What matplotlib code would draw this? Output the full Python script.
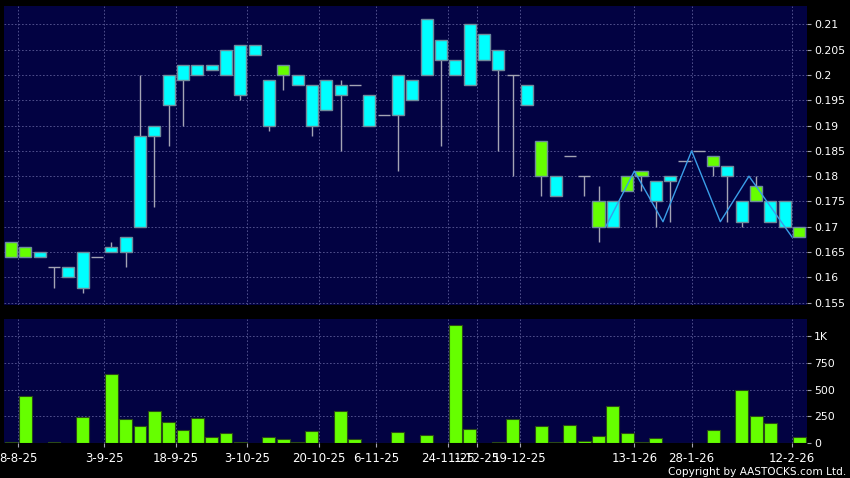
import numpy as np
import matplotlib
matplotlib.use('Agg')
import matplotlib.pyplot as plt
from matplotlib.patches import Rectangle
from matplotlib.ticker import FuncFormatter

# candle data (cyan = close above open, green = close below open)
opens = [0.167, 0.166, 0.164, 0.162, 0.160, 0.158, 0.164, 0.165, 0.165, 0.170,
         0.188, 0.194, 0.199, 0.200, 0.201, 0.200, 0.196, 0.204, 0.190, 0.202,
         0.198, 0.190, 0.193, 0.196, 0.198, 0.190, 0.192, 0.192, 0.195, 0.200,
         0.203, 0.200, 0.198, 0.203, 0.201, 0.200, 0.194, 0.187, 0.176, 0.184,
         0.180, 0.175, 0.170, 0.180, 0.181, 0.175, 0.179, 0.183, 0.185, 0.184,
         0.180, 0.171, 0.178, 0.171, 0.170, 0.170]
closes = [0.164, 0.164, 0.165, 0.162, 0.162, 0.165, 0.164, 0.166, 0.168, 0.188,
          0.190, 0.200, 0.202, 0.202, 0.202, 0.205, 0.206, 0.206, 0.199, 0.200,
          0.200, 0.198, 0.199, 0.198, 0.198, 0.196, 0.192, 0.200, 0.199, 0.211,
          0.207, 0.203, 0.210, 0.208, 0.205, 0.200, 0.198, 0.180, 0.180, 0.184,
          0.180, 0.170, 0.175, 0.177, 0.180, 0.179, 0.180, 0.183, 0.185, 0.182,
          0.182, 0.175, 0.175, 0.175, 0.175, 0.168]
highs = [0.167, 0.166, 0.165, 0.162, 0.162, 0.165, 0.164, 0.167, 0.168, 0.200,
         0.190, 0.200, 0.202, 0.202, 0.202, 0.205, 0.206, 0.206, 0.199, 0.202,
         0.200, 0.198, 0.199, 0.199, 0.198, 0.196, 0.192, 0.200, 0.199, 0.211,
         0.207, 0.203, 0.210, 0.208, 0.205, 0.200, 0.198, 0.187, 0.180, 0.184,
         0.180, 0.178, 0.175, 0.180, 0.181, 0.179, 0.180, 0.183, 0.185, 0.184,
         0.182, 0.175, 0.180, 0.175, 0.175, 0.170]
lows = [0.164, 0.164, 0.164, 0.158, 0.160, 0.157, 0.164, 0.165, 0.162, 0.170,
        0.174, 0.186, 0.190, 0.200, 0.201, 0.200, 0.195, 0.204, 0.189, 0.197,
        0.198, 0.188, 0.193, 0.185, 0.198, 0.190, 0.192, 0.181, 0.195, 0.200,
        0.186, 0.200, 0.198, 0.203, 0.185, 0.180, 0.194, 0.176, 0.176, 0.184,
        0.176, 0.167, 0.170, 0.177, 0.177, 0.170, 0.171, 0.183, 0.185, 0.180,
        0.171, 0.170, 0.175, 0.171, 0.170, 0.168]
volumes = [10, 441, 2, 12, 5, 248, 2, 646, 227, 165,
           301, 196, 121, 239, 62, 96, 15, 5, 56, 40,
           8, 115, 2, 304, 40, 2, 2, 106, 1, 78,
           5, 1099, 134, 1, 9, 224, 5, 158, 15, 168,
           18, 71, 345, 99, 15, 47, 6, 1, 1, 124,
           5, 494, 258, 193, 0, 59]

# zigzag line in the last part of the chart
zz_idx = [41, 43, 45, 47, 49, 51, 54]
zz_val = [0.170, 0.181, 0.171, 0.185, 0.171, 0.180, 0.168]

tick_idx = [0, 6, 11, 16, 21, 25, 30, 32, 35, 43, 47, 54]
tick_labels = ['8-8-25', '3-9-25', '18-9-25', '3-10-25', '20-10-25', '6-11-25',
               '24-11-25', '1-12-25', '19-12-25', '13-1-26', '28-1-26', '12-2-26']
price_ticks = [0.155, 0.16, 0.165, 0.17, 0.175, 0.18, 0.185, 0.19, 0.195, 0.2, 0.205, 0.21]
vol_ticks = [0, 250, 500, 750, 1000]

NAVY = '#020242'
GRID = '#5a5a96'
WICK = '#a4a4b4'
EDGE = '#6e8c9c'
UP = '#00ffff'
DOWN = '#66ff00'
W = 850
H = 478


def styleAxis(ax):
    ax.set_facecolor(NAVY)
    for s in ax.spines.values():
        s.set_visible(False)
    ax.yaxis.tick_right()
    ax.tick_params(axis='y', colors=WICK, labelcolor='white', length=3, width=0.8,
                   pad=2, labelsize=7.8)
    ax.grid(True, color=GRID, linestyle=(0, (2, 2.2)), linewidth=0.6)
    ax.set_axisbelow(True)


def plotCandles(ax):
    bw = 0.84
    for i in range(len(opens)):
        o, h, l, c = opens[i], highs[i], lows[i], closes[i]
        if h > max(o, c) or l < min(o, c):
            ax.vlines(i, l, h, color=WICK, linewidth=1, zorder=2)
        if o == c:
            ax.hlines(o, i - bw / 2, i + bw / 2, color=WICK, linewidth=1, zorder=3)
            continue
        col = UP if c > o else DOWN
        ax.add_patch(Rectangle((i - bw / 2, min(o, c)), bw, abs(c - o),
                               facecolor=col, edgecolor=EDGE, linewidth=1, zorder=3))


fig = plt.figure(figsize=(W / 100, H / 100), dpi=100, facecolor='black')
ax1 = fig.add_axes([4 / W, 1 - 305 / H, 803 / W, 299 / H])
ax2 = fig.add_axes([4 / W, 1 - 443.3 / H, 803 / W, 124.3 / H])

xpos = np.arange(len(opens))
grid_x = [t + 0.5 for t in tick_idx]

styleAxis(ax1)
plotCandles(ax1)
ax1.plot([z + 0.5 for z in zz_idx], zz_val, color='#3a9ee8', linewidth=1, zorder=4)
ax1.set_xlim(-0.49, 55.55)
ax1.set_ylim(0.15455, 0.21362)
ax1.set_yticks(price_ticks)
ax1.yaxis.set_major_formatter(FuncFormatter(lambda v, p: ('%.3f' % v).rstrip('0')))
ax1.set_xticks(grid_x)
ax1.tick_params(axis='x', length=0, labelbottom=False)

styleAxis(ax2)
ax2.bar(xpos, volumes, width=0.9, color=DOWN, edgecolor='#2a4a18', linewidth=0.8, zorder=3)
ax2.set_xlim(-0.49, 55.55)
ax2.set_ylim(0, 1158)
ax2.set_yticks(vol_ticks)
ax2.yaxis.set_major_formatter(FuncFormatter(lambda v, p: '1K' if v >= 1000 else '%d' % v))
ax2.set_xticks(grid_x)
ax2.set_xticklabels(tick_labels)
ax2.tick_params(axis='x', colors=WICK, labelcolor='white', length=3, width=0.8,
                pad=3, labelsize=8.5)

fig.text(846 / W, 1 - 472 / H, 'Copyright by AASTOCKS.com Ltd.', color='white',
         fontsize=7.6, ha='right', va='center')

fig.savefig('out.png', dpi=100, facecolor='black')
